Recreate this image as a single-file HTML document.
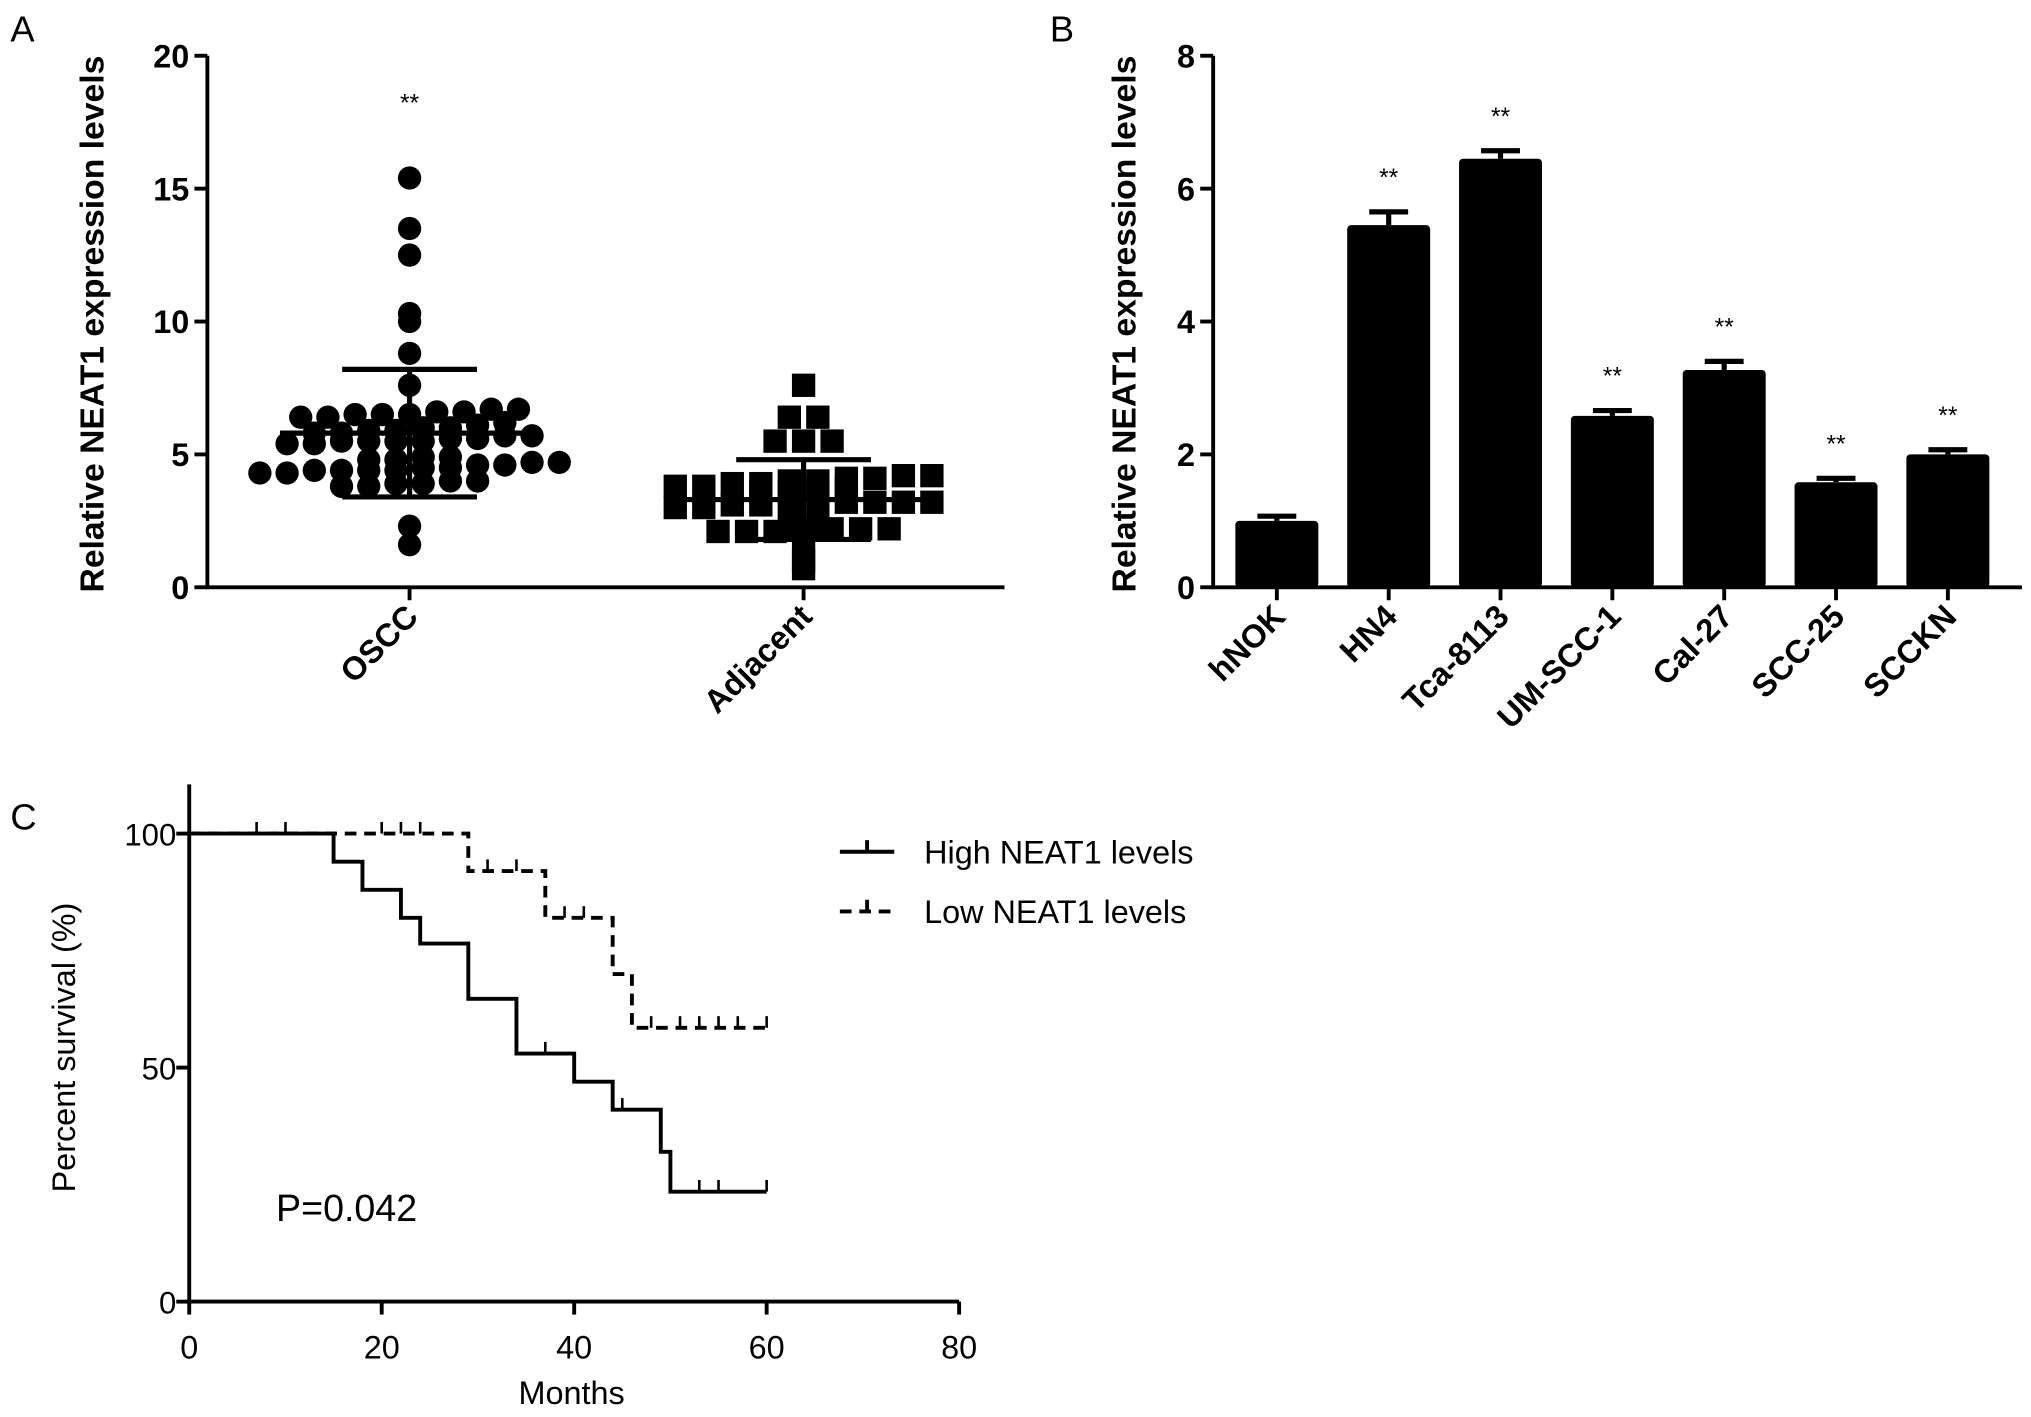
<!DOCTYPE html>
<html><head><meta charset="utf-8"><style>
html,body{margin:0;padding:0;background:#fff}
svg{display:block}
text{font-family:"Liberation Sans",Arial,sans-serif;fill:#000}
.b{font-weight:bold}
</style></head><body>
<svg id="fig" width="2031" height="1417" viewBox="0 0 1567 1093" preserveAspectRatio="none" xmlns="http://www.w3.org/2000/svg">
<text x="8" y="32" font-size="28">A</text>
<text x="810" y="32" font-size="28">B</text>
<text x="8" y="640" font-size="28">C</text>
<g id="A"></g>
<g id="B"></g>
<g id="C"></g>
</svg>
<script>
// ---------- Panel A data ----------
const aGroups = ["OSCC", "Adjacent"];
const aTicks = [0, 5, 10, 15, 20];
const osccValues = [15.4,13.5,12.5,10.3,10.0,8.8,7.6,
 6.7,6.6,6.5,6.5,6.4,6.4,6.5,6.6,6.7,
 6.0,6.1,6.2,6.0,
 5.9,5.8,5.7,5.6,5.5,5.5,5.4,5.4,5.5,5.5,5.6,5.7,5.8,5.9,
 4.9,4.8,4.7,4.6,4.5,4.4,4.4,4.3,4.3,4.4,4.4,4.5,4.6,4.7,4.8,4.9,
 4.0,3.9,3.8,3.8,3.9,4.0,
 2.3,1.6];
const adjValues = [7.6,6.4,6.4,5.5,5.5,5.5,
 4.2,4.1,4.0,3.9,3.8,3.8,3.9,4.0,4.1,4.2,
 3.7,3.6,3.6,3.7,
 3.2,3.2,3.1,3.1,3.0,3.0,3.1,3.1,3.2,3.2,
 2.3,2.2,2.2,2.1,2.1,2.1,2.2,2.2,2.3,
 1.6,1.0,0.7];
const aMean = [5.8, 3.3];
const aSD = [2.4, 1.5];
// ---------- Panel B data ----------
const bCats = ["hNOK","HN4","Tca-8113","UM-SCC-1","Cal-27","SCC-25","SCCKN"];
const bValues = [1.0, 5.45, 6.45, 2.58, 3.27, 1.58, 2.0];
const bErrors = [0.07, 0.2, 0.12, 0.08, 0.13, 0.06, 0.07];
const bTicks = [0, 2, 4, 6, 8];
// ---------- Panel C data ----------
const cXTicks = [0, 20, 40, 60, 80];
const cYTicks = [0, 50, 100];
const highTimes = [0,15,18,22,24,29,34,40,44,49,50,60];
const highSurv  = [100,94,88,82,76.5,64.7,53,47,41,32,23.5,23.5];
const highCens  = [7,10,37,45,53,55,60];
const lowTimes = [0,29,37,44,45,46,60];
const lowSurv  = [100,92,82,70,70,58.5,58.5];
const lowCens  = [20,22,24,31,34,39,41,48,51,53,55,57,60];

const NS="http://www.w3.org/2000/svg";
function mk(parent, tag, attrs, txt){const e=document.createElementNS(NS,tag);for(const k in attrs)e.setAttribute(k,attrs[k]);if(txt!==undefined)e.textContent=txt;parent.appendChild(e);return e;}

// ---------- Panel A ----------
(function(){
 const g=document.getElementById('A');
 const x0=160,x1=775,yTop=43,yBot=453;
 const y=v=>yBot-(v/20)*(yBot-yTop);
 const gx=[316,620];
 let ax=mk(g,'path',{d:`M${x0} ${yTop}V${yBot}H${x1}`,stroke:'#000','stroke-width':3,fill:'none'});
 
 aTicks.forEach(t=>{
  mk(g,'line',{x1:x0-10,x2:x0,y1:y(t),y2:y(t),stroke:'#000','stroke-width':3});
  const tl=mk(g,'text',{x:x0-14,y:y(t)+9,'font-size':25,'text-anchor':'end',class:'b'},String(t));
  
 });
 const yt=mk(g,'text',{transform:'translate(80,250) rotate(-90)','font-size':26,'text-anchor':'middle',class:'b'},'Relative NEAT1 expression levels');
 
 aGroups.forEach((n,i)=>{
  mk(g,'line',{x1:gx[i],x2:gx[i],y1:yBot,y2:yBot+10,stroke:'#000','stroke-width':3});
  const t=mk(g,'text',{transform:`translate(${gx[i]+8},${yBot+24}) rotate(-45)`,'font-size':25,'text-anchor':'end',class:'b'},n);
  
 });
 function swarm(vals,cx,isSq){
  const bins={};
  vals.forEach(v=>{const k=Math.round(v/0.5);(bins[k]=bins[k]||[]).push(v);});
  for(const k in bins){
   const arr=bins[k].slice().sort((a,b)=>a-b);
   const n=arr.length;
   arr.forEach((v,j)=>{
    const off=(j-(n-1)/2)*(isSq?22:21);
    let m;
    if(isSq){m=mk(g,'rect',{x:cx+off-9,y:y(v)-9,width:18,height:18,fill:'#000'});}
    else{m=mk(g,'circle',{cx:cx+off,cy:y(v),r:9,fill:'#000'});}
    
    
   });
  }
 }
 swarm(osccValues,gx[0],false);
 swarm(adjValues,gx[1],true);
 aMean.forEach((m,i)=>{
  const cx=gx[i];
  const e=mk(g,'path',{d:`M${cx-100} ${y(m)}H${cx+100}M${cx-52} ${y(m+aSD[i])}H${cx+52}M${cx-52} ${y(m-aSD[i])}H${cx+52}M${cx} ${y(m+aSD[i])}V${y(m-aSD[i])}`,stroke:'#000','stroke-width':4,fill:'none'});
  
 });
 const s=mk(g,'text',{x:gx[0],y:86,'font-size':19,'text-anchor':'middle'},'**');
 
})();

// ---------- Panel B ----------
(function(){
 const g=document.getElementById('B');
 const x0=936,x1=1560,yTop=43,yBot=453;
 const y=v=>yBot-(v/8)*(yBot-yTop);
 const step=(x1-x0-20)/bCats.length;
 const cx=i=>x0+10+step*(i+0.5)-4;
 let ax=mk(g,'path',{d:`M${x0} ${yTop}V${yBot}H${x1}`,stroke:'#000','stroke-width':3,fill:'none'});
 
 bTicks.forEach(t=>{
  mk(g,'line',{x1:x0-10,x2:x0,y1:y(t),y2:y(t),stroke:'#000','stroke-width':3});
  const tl=mk(g,'text',{x:x0-14,y:y(t)+9,'font-size':25,'text-anchor':'end',class:'b'},String(t));
  
 });
 const yt=mk(g,'text',{transform:'translate(876,250) rotate(-90)','font-size':26,'text-anchor':'middle',class:'b'},'Relative NEAT1 expression levels');
 
 bCats.forEach((c,i)=>{
  const X=cx(i),v=bValues[i],e=bErrors[i];
  const r=mk(g,'rect',{x:X-32,y:y(v),width:64,height:yBot-y(v),fill:'#000',rx:3});
  
  const eb=mk(g,'path',{d:`M${X} ${y(v)}V${y(v+e)}M${X-15} ${y(v+e)}H${X+15}`,stroke:'#000','stroke-width':4});
  
  mk(g,'line',{x1:X,x2:X,y1:yBot,y2:yBot+10,stroke:'#000','stroke-width':3});
  const t=mk(g,'text',{transform:`translate(${X+8},${yBot+24}) rotate(-45)`,'font-size':25,'text-anchor':'end',class:'b'},c);
  
  if(i>0){const s=mk(g,'text',{x:X,y:y(v+e)-20,'font-size':19,'text-anchor':'middle'},'**');
   }
 });
})();

// ---------- Panel C ----------
(function(){
 const g=document.getElementById('C');
 const x0=146,xEnd=740,yTopAx=605,y100=643,y0=1004;
 const x=t=>x0+(t/80)*(xEnd-x0);
 const y=v=>y0-(v/100)*(y0-y100);
 let ax=mk(g,'path',{d:`M${x0} ${yTopAx}V${y0}H${xEnd}`,stroke:'#000','stroke-width':3,fill:'none'});
 
 cYTicks.forEach(t=>{
  mk(g,'line',{x1:x0-10,x2:x0,y1:y(t),y2:y(t),stroke:'#000','stroke-width':3});
  const tl=mk(g,'text',{x:x0-10,y:y(t)+9,'font-size':24,'text-anchor':'end'},String(t));
  
 });
 cXTicks.forEach(t=>{
  mk(g,'line',{x1:x(t),x2:x(t),y1:y0,y2:y0+10,stroke:'#000','stroke-width':3});
  const tl=mk(g,'text',{x:x(t),y:y0+44,'font-size':25,'text-anchor':'middle'},String(t));
  
 });
 const xt=mk(g,'text',{x:441,y:1083,'font-size':25,'text-anchor':'middle'},'Months');
 
 const yt=mk(g,'text',{transform:'translate(58,808) rotate(-90)','font-size':25,'text-anchor':'middle'},'Percent survival (%)');
 
 function stepPath(ts,ss){let d=`M${x(ts[0])} ${y(ss[0])}`;for(let i=1;i<ts.length;i++){d+=`H${x(ts[i])}V${y(ss[i])}`;}return d;}
 function survAt(ts,ss,t){let s=ss[0];for(let i=0;i<ts.length;i++){if(ts[i]<=t)s=ss[i];}return s;}
 const hp=mk(g,'path',{d:stepPath(highTimes,highSurv),stroke:'#000','stroke-width':3,fill:'none'});
 
 const lp=mk(g,'path',{d:stepPath(lowTimes,lowSurv),stroke:'#000','stroke-width':3,fill:'none','stroke-dasharray':'9,6'});
 
 highCens.forEach(t=>{const c=mk(g,'line',{x1:x(t),x2:x(t),y1:y(survAt(highTimes,highSurv,t)),y2:y(survAt(highTimes,highSurv,t))-9,stroke:'#000','stroke-width':2});
  });
 lowCens.forEach(t=>{const c=mk(g,'line',{x1:x(t),x2:x(t),y1:y(survAt(lowTimes,lowSurv,t)),y2:y(survAt(lowTimes,lowSurv,t))-9,stroke:'#000','stroke-width':2});
  });
 const l1=mk(g,'path',{d:'M648 657H690M669 657V648',stroke:'#000','stroke-width':3,fill:'none'});
 
 const t1=mk(g,'text',{x:713,y:666,'font-size':25},'High NEAT1 levels');
 
 const l2=mk(g,'path',{d:'M648 703H690M669 703V694',stroke:'#000','stroke-width':3,fill:'none','stroke-dasharray':'9,6'});
 
 const t2=mk(g,'text',{x:713,y:712,'font-size':25},'Low NEAT1 levels');
 
 const p=mk(g,'text',{x:213,y:942,'font-size':29},'P=0.042');
 
})();
</script>
</body></html>
